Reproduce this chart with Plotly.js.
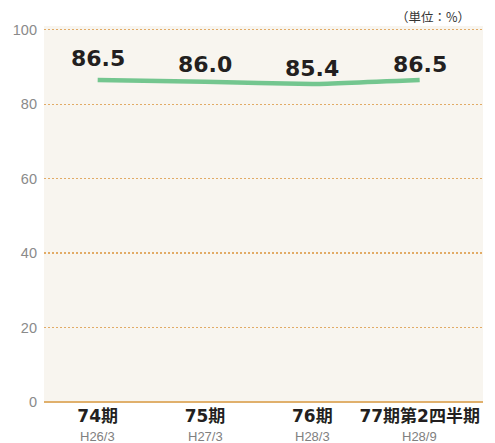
<!DOCTYPE html>
<html><head><meta charset="utf-8">
<script src="https://cdn.plot.ly/plotly-3.0.1.min.js"></script>
<style>html,body{margin:0;padding:0;background:#fff}</style>
</head><body>
<div id="chart" style="width:495px;height:443px"></div>
<script>
const periods = ["74期", "75期", "76期", "77期第2四半期"];
const dates = ["H26/3", "H27/3", "H28/3", "H28/9"];
const values = [86.5, 86.0, 85.4, 86.5];
const yTicks = [0, 20, 40, 60, 80, 100];

const labelShift = [7, 3, 1, 1];
const numFam = "'DejaVu Sans', 'Noto Sans CJK JP', sans-serif";
const lightFam = "'Liberation Sans', Arial, sans-serif";

const xs = periods.map((_, i) => i);

const trace = {
  x: xs, y: values, type: "scatter", mode: "lines",
  line: {color: "#74c68f", width: 4.5, shape: "spline", smoothing: 0.3},
  hoverinfo: "skip"
};

const annotations = values.map((v, i) => ({
  x: xs[i], y: v, xref: "x", yref: "y", text: "<b>" + v.toFixed(1) + "</b>",
  showarrow: false, yanchor: "bottom", yshift: labelShift[i],
  font: {family: numFam, size: 22, color: "#231f20"}
}));
dates.forEach((d, i) => annotations.push({
  x: xs[i], y: 0, xref: "x", yref: "paper", yanchor: "middle", yshift: -34,
  text: d, showarrow: false,
  font: {family: lightFam, size: 13, color: "#808080"}
}));
annotations.push({
  xref: "paper", yref: "paper", x: 0.975, y: 1, yshift: 10, xanchor: "right", yanchor: "middle",
  text: "（単位：%）", showarrow: false,
  font: {family: "'Noto Sans CJK JP', sans-serif", size: 12.5, color: "#333"}
});

const layout = {
  width: 495, height: 443,
  margin: {l: 44, r: 12, t: 26, b: 41, pad: 0},
  paper_bgcolor: "#ffffff", plot_bgcolor: "#f8f5ef",
  showlegend: false,
  xaxis: {
    range: [-0.5, 3.59], tickmode: "array", tickvals: xs,
    ticktext: periods.map(p => "<b>" + p + "</b>"),
    showgrid: false, zeroline: false, showline: false, ticks: "",
    ticklabelstandoff: 2,
    tickfont: {family: numFam, size: 17, color: "#231f20"},
    fixedrange: true
  },
  yaxis: {
    range: [0, 101], tickmode: "array", tickvals: yTicks,
    showgrid: true, gridcolor: "#e2ab66", griddash: "2px,2px", gridwidth: 1.2,
    zeroline: true, zerolinecolor: "#e0b06c", zerolinewidth: 2,
    showline: false, ticks: "", ticklabelstandoff: 6,
    tickfont: {family: lightFam, size: 14.5, color: "#8a8a8a"},
    fixedrange: true
  },
  annotations: annotations
};

Plotly.newPlot("chart", [trace], layout, {displayModeBar: false, staticPlot: true});
</script>
</body></html>
